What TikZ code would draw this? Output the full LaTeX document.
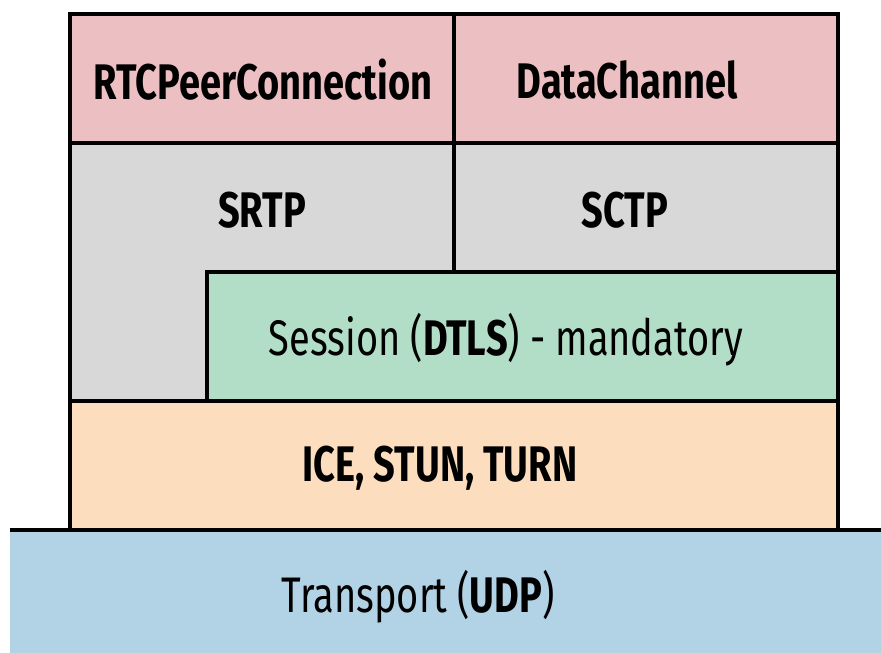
\documentclass[tikz,border=0pt]{standalone}
\usepackage{fontspec}
\setmainfont[FakeStretch=0.76]{Fira Sans}
\definecolor{cpink}{HTML}{ECBFC3}
\definecolor{cgray}{HTML}{D8D8D8}
\definecolor{cgreen}{HTML}{B2DEC8}
\definecolor{cpeach}{HTML}{FCDEBF}
\definecolor{cblue}{HTML}{B2D3E6}
\begin{document}
\begin{tikzpicture}[x=1pt,y=-1pt,
  edge/.style={line width=3.4pt,black},
  lbl/.style={inner sep=0pt,font=\fontsize{50}{56}\selectfont},
  blbl/.style={lbl,font=\fontsize{50}{56}\selectfont\bfseries}]
\useasboundingbox (0,0) rectangle (881,653);
% fills
\fill[cpink] (70,14) rectangle (838,143);
\fill[cgray] (70,143) rectangle (838,401);
\fill[cgreen] (207,272) rectangle (838,401);
\fill[cpeach] (70,401) rectangle (838,530);
\fill[cblue] (10,530) rectangle (881,653);
% borders
\draw[edge] (70,14) rectangle (838,530);
\draw[edge] (70,143) -- (838,143);
\draw[edge] (454,14) -- (454,272);
\draw[edge] (207,401) -- (207,272) -- (838,272);
\draw[edge] (70,401) -- (838,401);
\draw[edge] (10,530) -- (881,530);
% labels
\node[blbl] (rtc) at (263,80) {RTCPeerConnection};
\node[blbl] (dc) at (627,80) {DataChannel};
\node[blbl] (srtp) at (262,210) {SRTP};
\node[blbl] (sctp) at (625,210) {SCTP};
\node[lbl] (dtls) at (506,340) {Session (\textbf{DTLS}) - mandatory};
\node[blbl] (ice) at (440,468) {ICE, STUN, TURN};
\node[lbl] (udp) at (418,597) {Transport (\textbf{UDP})};
\end{tikzpicture}
\end{document}
